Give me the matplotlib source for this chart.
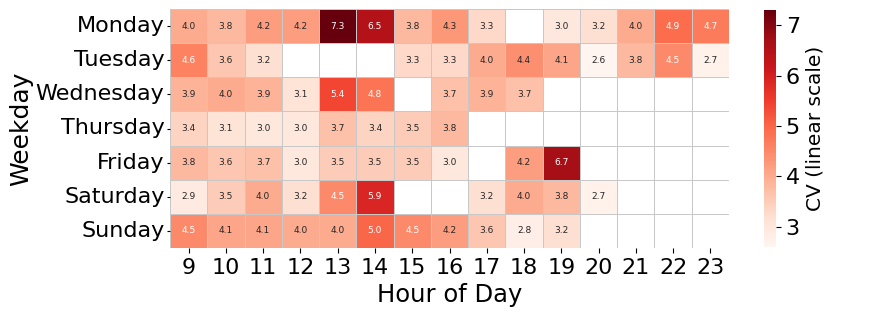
import numpy as np
import matplotlib
matplotlib.use("Agg")
import matplotlib.pyplot as plt
import seaborn as sns

nan = np.nan
days = ["Monday", "Tuesday", "Wednesday", "Thursday", "Friday", "Saturday", "Sunday"]
hours = list(range(9, 24))

monday    = [4.0, 3.8, 4.2, 4.2, 7.3, 6.5, 3.8, 4.3, 3.3, nan, 3.0, 3.2, 4.0, 4.9, 4.7]
tuesday   = [4.6, 3.6, 3.2, nan, nan, nan, 3.3, 3.3, 4.0, 4.4, 4.1, 2.6, 3.8, 4.5, 2.7]
wednesday = [3.9, 4.0, 3.9, 3.1, 5.4, 4.8, nan, 3.7, 3.9, 3.7, nan, nan, nan, nan, nan]
thursday  = [3.4, 3.1, 3.0, 3.0, 3.7, 3.4, 3.5, 3.8, nan, nan, nan, nan, nan, nan, nan]
friday    = [3.8, 3.6, 3.7, 3.0, 3.5, 3.5, 3.5, 3.0, nan, 4.2, 6.7, nan, nan, nan, nan]
saturday  = [2.9, 3.5, 4.0, 3.2, 4.5, 5.9, nan, nan, 3.2, 4.0, 3.8, 2.7, nan, nan, nan]
sunday    = [4.5, 4.1, 4.1, 4.0, 4.0, 5.0, 4.5, 4.2, 3.6, 2.8, 3.2, nan, nan, nan, nan]

data = np.array([monday, tuesday, wednesday, thursday, friday, saturday, sunday])

fig = plt.figure(figsize=(8.77, 3.13), dpi=100)
ax = fig.add_axes([170/877, 1-248/313, 559/877, 239/313])
cax = fig.add_axes([764/877, 1-247/313, 12/877, 237/313])

sns.heatmap(data, ax=ax, cbar_ax=cax, cmap="Reds", annot=True, fmt=".1f",
            annot_kws={"size": 6.5}, linewidths=0.5, linecolor="#c8c8c8",
            xticklabels=hours, yticklabels=days)

# grid lines for empty cells too
for i in range(data.shape[0] + 1):
    ax.axhline(i, color="#cccccc", lw=0.5, zorder=0.5)
for j in range(data.shape[1] + 1):
    ax.axvline(j, color="#cccccc", lw=0.5, zorder=0.5)

ax.set_xlabel("Hour of Day", fontsize=17.5)
ax.set_ylabel("Weekday", fontsize=18, labelpad=2)
ax.tick_params(axis="x", labelsize=16, rotation=0)
ax.tick_params(axis="y", labelsize=16, rotation=0, length=2.5, pad=1.5)

cax.tick_params(labelsize=16)
cax.set_ylabel("CV (linear scale)", fontsize=14.5)

fig.savefig("out.png", dpi=100)
